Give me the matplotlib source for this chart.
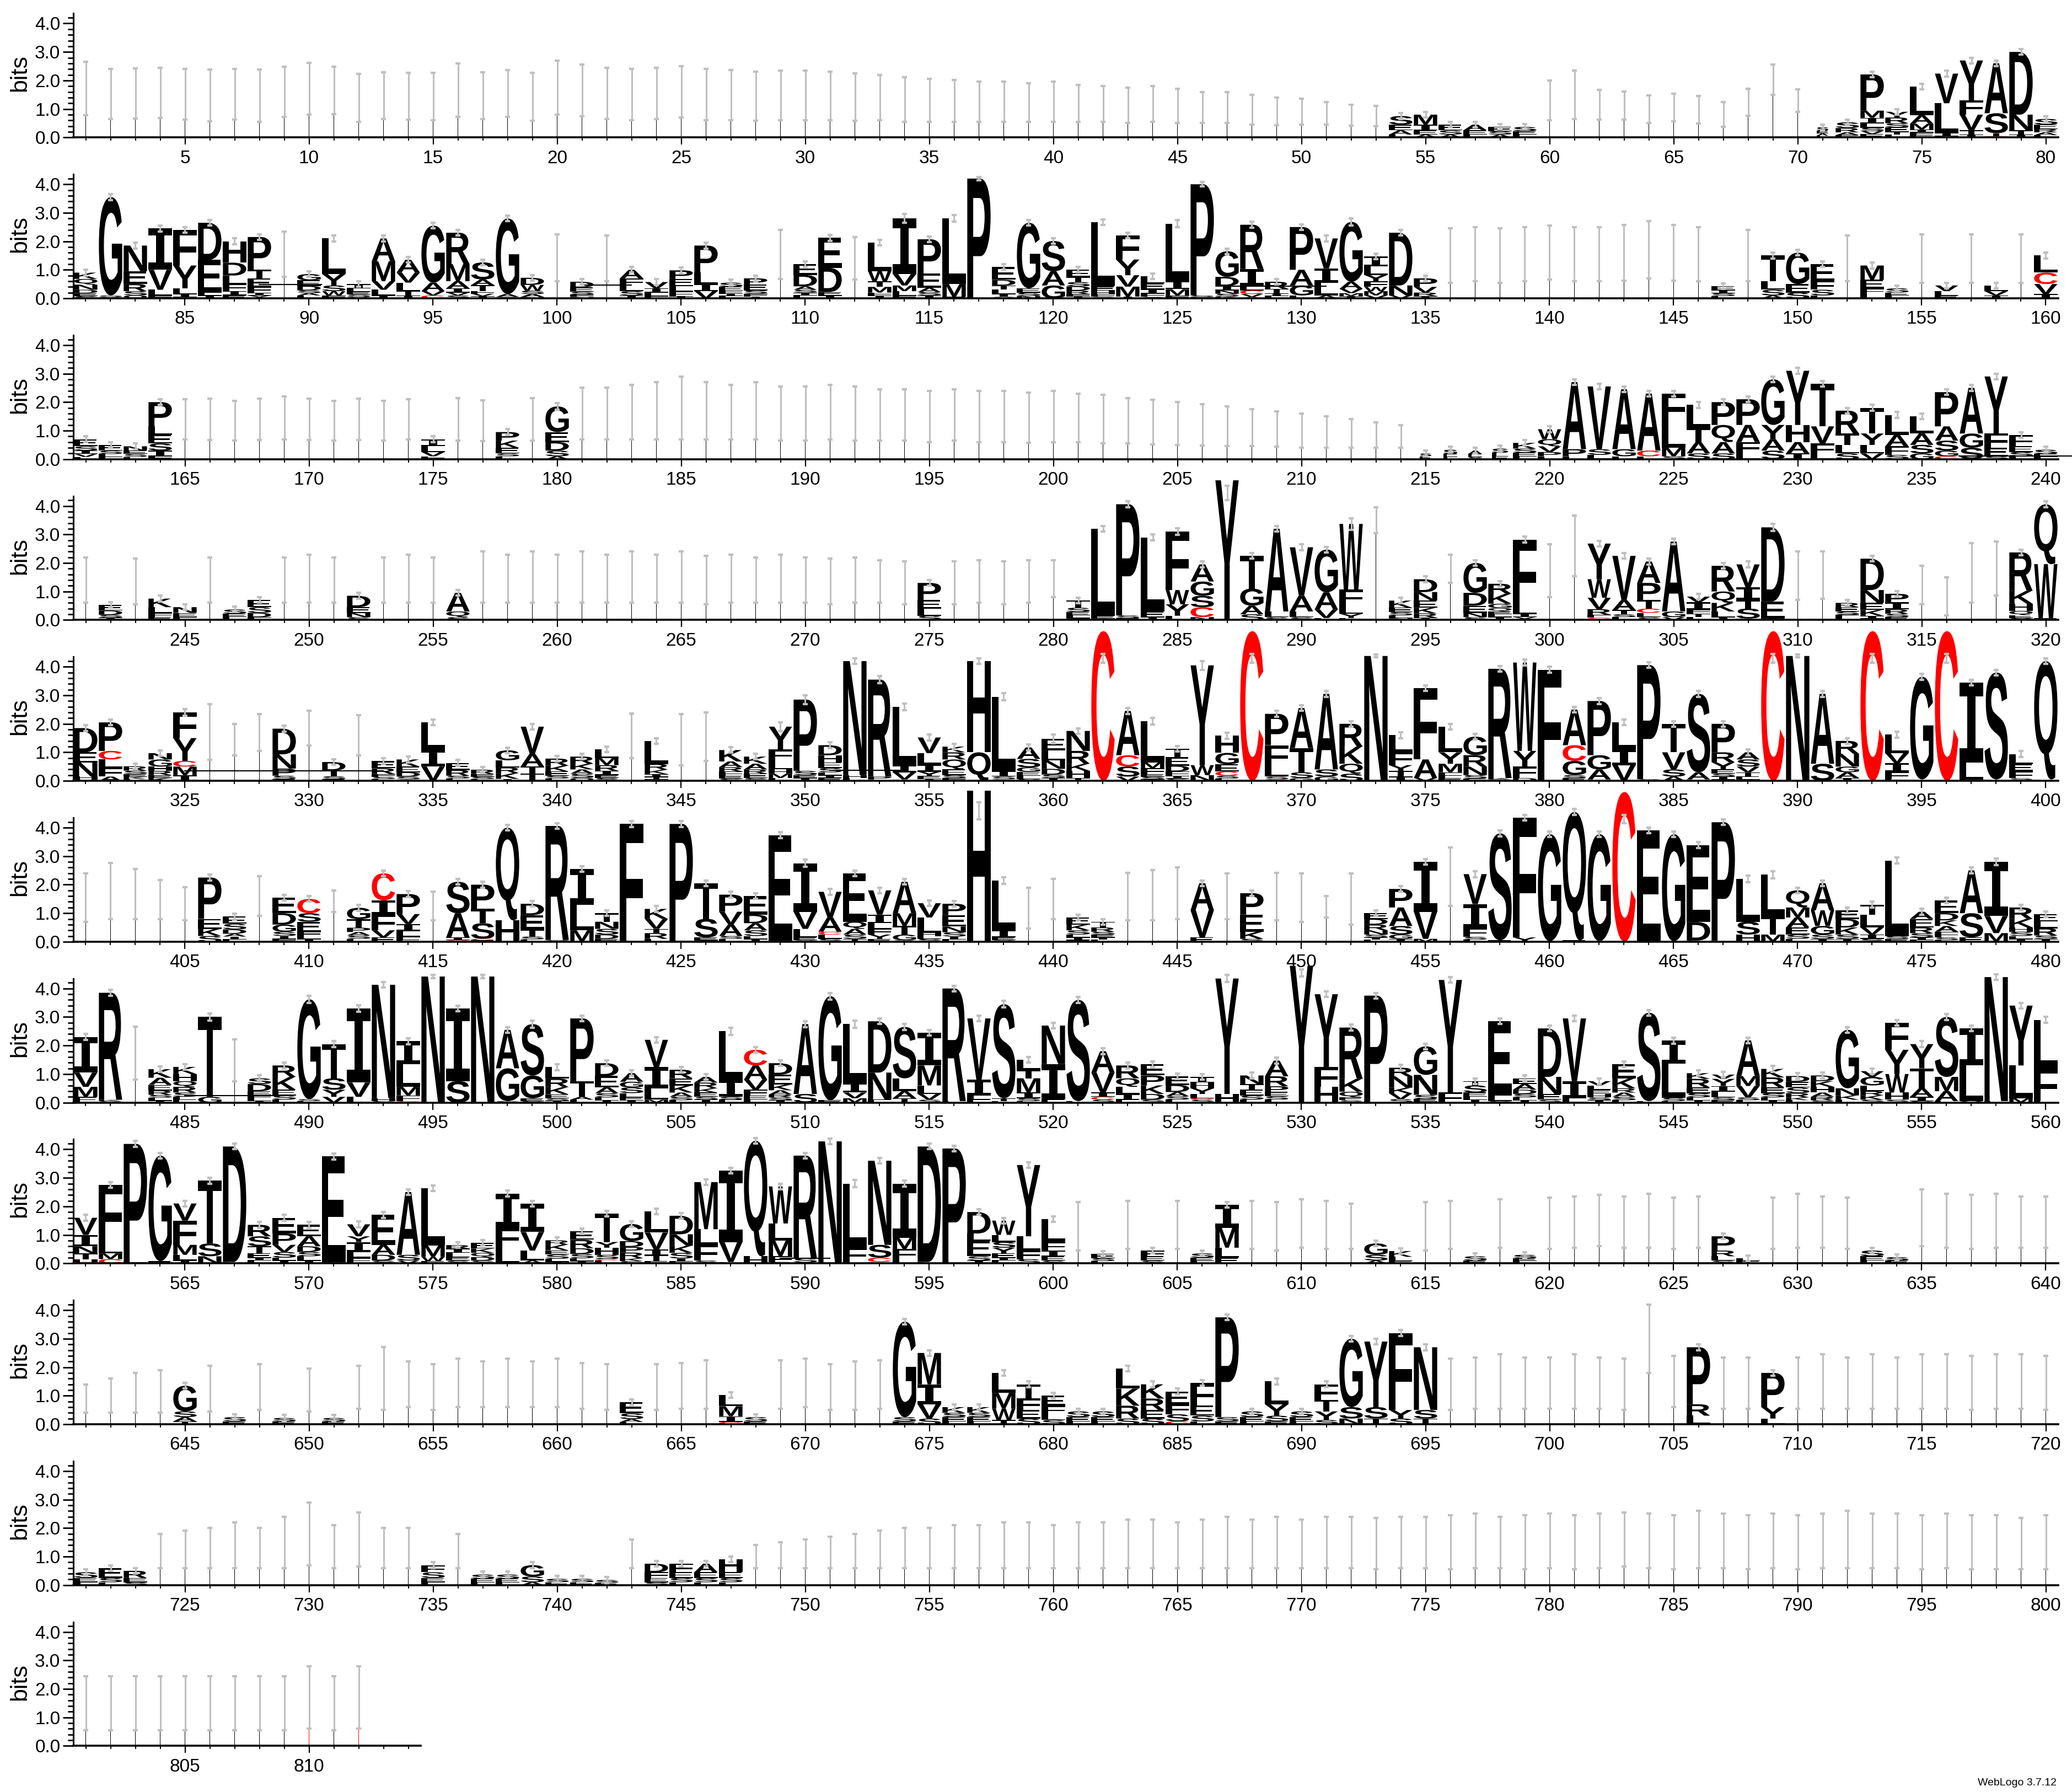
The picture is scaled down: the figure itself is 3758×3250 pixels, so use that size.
import re
import matplotlib
matplotlib.use("Agg")
import matplotlib.pyplot as plt
from matplotlib.textpath import TextPath
from matplotlib.font_manager import FontProperties
from matplotlib.patches import PathPatch, Rectangle
from matplotlib.transforms import Affine2D
from matplotlib.ticker import MultipleLocator
from matplotlib.lines import Line2D

# ---------------- data ----------------
# token per position: "g<h>/<e>" = mostly-gap narrow stack of height h with error +-e
# otherwise letters top->bottom with heights, optional "/e" error, optional "@c" error centre,
# optional "<w>|" prefix for stack width fraction
ROW_START = [1, 81, 161, 241, 321, 401, 481, 561, 641, 721, 801]

ROW01 = ("g1.72/.94 g1.52/.88 g1.55/.88 g1.56/.88 g1.51/.89 g1.47/.91 g1.51/.89 g1.47/.92 g1.6/.88 g1.71/.91 "
         "g1.65/.83 g1.39/.84 g1.47/.82 g1.44/.82 g1.43/.83 g1.66/.93 g1.47/.82 g1.54/.82 g1.42/.84 g1.75/.95 "
         "g1.65/.9 g1.55/.9 g1.5/.9 g1.55/.9 g1.6/.9 g1.5/.9 g1.48/.88 g1.45/.86 g1.48/.87 g1.48/.87 "
         "g1.45/.85 g1.42/.83 g1.4/.8 g1.33/.78 g1.3/.75 g1.28/.73 g1.25/.7 g1.25/.7 g1.22/.68 g1.25/.7 "
         "g1.2/.65 g1.17/.63 g1.13/.62 g1.17/.63 g1.1/.6 g1.05/.55 g1.05/.55 g.98/.52 g.92/.48 g.9/.45 "
         "g.85/.4 g.78/.37 g.75/.35 S.3E.2A.15L.1 M.35I.2E.15A.1 E.2S.15A.1 A.2E.15L.1 E.15S.12A.1 S.15E.12L.1 g1.3/.7 "
         "g1.5/.85 g1.14/.52 g1.12/.5 g.99/.49 g1.05/.49 g.97/.49 g.81/.43 g1.23/.47 g2.03/.53 g1.29/.39 "
         ".5|S.12E.1A.08L.06 S.2R.15A.1E.08 P1.27M.25I.2L.15S.12V.1E.12 Y.2R.2S.15E.15T.1L.1 L1.0A.3M.2I.1F.1E.08 "
         "V1.04L1.05I.1F.05 Y1.4F.5V.55T.15I.1 A1.75S.7T.1C.05 D2.2N.55T.15I.1 S.2E.15R.12A.1L.08").split()

ROW02 = ("K.22Q.2N.18D.12E.1S.08 G3.45S.05V.05 N.9E.45R.25S.15Q.1 I1.45V.7L.2F.1 F1.25Y.8L.2I.1F.05 "
         "D1.3E1.15L.1I.1 H.75D.45L.3F.25I.15E.1 P1.15T.3E.3F.2I.1Y.1 g1.55/.8 G.22E.2D.15S.1A.08L.1 "
         "L1.25Y.4S.2W.15F.1 I.15L.12E.1S.08V.05 A.8M.7V.3L.2I.1 A.45V.35L.3T.15I.1 G2.0A.3V.15C.1 "
         "R1.1M.6A.25I.15V.1S.1 S.6A.2T.2F.1V.08I.08 G2.65A.1S.05 D.25W.2S.12A.1N.05 g1.42/.82 "
         "D.2E.15S.1F.08N.05 g1.4/.8 A.3F.25L.2S.15I.1 V.22I.15L.12F.08 P.3E.25L.2F.15I.08 "
         "P.95L.4I.25V.25 S.15E.12F.1I.1L.08 P.22E.2S.12F.1I.06 g1.54/.86 E.38D.4A.12S.1I.1L.1 "
         "E1.05D.85E.12I.1 g1.4/.75 L1.0W.35T.2M.2F.1I.1 I1.95V.4M.2L.15F.1/.15 P1.2E.5A.15S.12I.1 "
         "L2.3M.45E.05/.12 P4.2/.06 E.45D.2T.15L.15I.1S.05 G2.3E.15S.12N.08 S1.06A.5G.45 "
         "E.25T.18S.15D.15R.12F.08I.07 L2.25E.15H.12F.1S.05 F.85Y.55V.4M.35I.06 L.25E.2I.15F.12S.05 L2.0I.3M.22F.1/.12 "
         "P3.9S.05D.05/.08 G.9D.32I.15N.12S.1K.06 R1.55I.6L.15C.13V.1A.05 R.25T.15I.1L.08 P1.5A.55G.35L.1 "
         "V1.05I.5L.45A.1 G2.1A.25V.15M.1I.08/.12 I.35L.3Y.22F.2W.15M.15V.1 D1.85N.35V.1 P.3V.2R.12I.08 "
         "g1.5/.95 g1.55/.95 g1.5/.95 g1.55/.95 g1.6/.95 g1.55/.95 g1.55/.95 g1.6/.98 g1.7/1.0 g1.6/.98 "
         "g1.55/.95 E.15I.1S.1L.08 g1.5/.9 T.9L.3S.2A.1 G1.1E.3S.2 E.6F.3S.2L.1 g1.4/.8 M.5E.3F.2L.15 "
         "S.15E.1L.1 g1.4/.85 V.2L.15E.1 g1.4/.85 L.2V.15I.1 g1.4/.85 L.6C.4V.35I.15").split()

ROW03 = ("E.25S.15I.12V.1F.08 E.2S.12L.1F.08 N.15E.12S.1F.08 P.85L.3E.3S.25I.2F.1 g1.4/.7 g1.4/.72 g1.35/.7 g1.4/.72 "
         "g1.45/.75 g1.4/.72 g1.35/.7 g1.4/.72 g1.35/.7 g1.4/.7 I.25L.2V.15F.1 g1.4/.75 g1.35/.72 "
         "P.3K.25E.2S.1L.1 g1.4/.75 G.9E.35D.3S.2A.1/.12 g1.6/.9 g1.6/.9 g1.65/.95 g1.7/1.0 g1.8/1.1 "
         "g1.7/1.0 g1.65/.95 g1.7/1.0 g1.6/.95 g1.6/.95 g1.65/.95 g1.6/.95 g1.55/.9 g1.55/.9 g1.5/.9 "
         "g1.55/.9 g1.5/.9 g1.5/.9 g1.45/.88 g1.5/.9 g1.45/.85 g1.4/.85 g1.35/.8 g1.3/.78 g1.25/.75 "
         "g1.2/.72 g1.15/.7 g1.1/.65 g1.05/.62 g1.0/.6 g.95/.55 g.9/.5 g.85/.45 g.8/.4 "
         ".5|S.1E.1 .6|S.15E.1L.08 .6|A.12E.1S.08 .7|S.15L.12E.1 "
         "K.2S.15E.12L.1 W.35Q.25V.2P.15L.1 A2.35P.25L.1 V2.2S.2L.15 A2.1G.25L.1 A2.0C.2L.1 "
         "F1.0L.9M.3S.1 L.8T.5A.4S.2 P.8Q.6A.4S.2 P.9A.6F.4L.2 G1.6Y.5A.4S.3 Y1.9H.6A.4I.2 "
         "T1.5V.6F.4L.15 R.8T.4L.3S.2 T.9Y.4L.3V.2 L.7A.4F.3S.15 L.6A.4S.3G.2 P1.2A.5S.35G.2C.1 "
         "A1.6G.5S.4 Y2.0F.5E.3S.1 F.4E.2S.15L.1 S.15E.1L.08").split()

ROW04 = ("g1.4/.8 E.2D.15S.1I.08 g1.35/.8 K.3L.2F.15E.1 N.2E.15F.1 g1.4/.8 S.15E.12L.1 E.25S.2D.15F.1 "
         "g1.4/.8 g1.45/.85 g1.4/.8 D.4E.2N.15S.1 g1.4/.8 g1.45/.85 g1.4/.8 A.65Q.2S.1 g1.5/.9 "
         "g1.45/.85 g1.5/.9 g1.45/.85 g1.5/.9 g1.45/.85 g1.5/.9 g1.45/.85 g1.5/.9 g1.4/.85 g1.45/.85 "
         "g1.4/.8 g1.45/.85 g1.4/.8 g1.35/.8 g1.4/.8 g1.35/.75 g1.3/.75 P.6E.3L.25S.15 g1.3/.75 "
         "g1.35/.75 g1.3/.75 g1.35/.75 g1.45/.65 "
         "T.25S.15E.12L.1I.06 L3.05E.1I.05 P3.9S.1E.06 L2.6E.2I.1 F2.05W.5Y.4L.15/.12 A.6G.5S.4C.35N.1 "
         "Y4.9/.25@4.45 T1.15G.6A.3S.2 A2.9L.2S.1 V1.7A.55L.2S.1 G1.5A.6V.3L.07 W2.3F.55L.3Y.15E.07/.2 "
         "g3.5/.45 K.25E.15S.12L.1N.06 D.45N.3E.25K.2R.15I.08 g1.8/.5 G1.05D.45E.25N.15S.1 "
         "R.35K.35G.15Q.12E.1L.1I.1 F2.4L.2I.12Y.1 g1.73/.93 g2.6/1.07 Y1.25W.65V.4R.2F.1C.08 "
         "V1.55A.35T.15S.1L.1 A.75P.6T.3C.15L.15S.1 A2.45G.2V.1 V.2I.25F.15T.12L.1 R.9Q.4K.3L.2I.1 "
         "V.8I.45T.3S.35L.05 D2.6E.6I.05/.12 g1.55/.85 g1.58/.83 R.15E.15S.12F.1L.08 D1.1N.45E.25K.2I.1S.05 "
         "P.3I.25R.15S.12E.1 g1.23/.68 g.83/.67 g1.65/1.05 g1.8/.95 R1.35K.45H.25Q.15E.1S.07 Q2.1W1.9E.06").split()

ROW05 = ("D.85E.35N.5H.1V.05 P1.0C.3L.3F.3A.15 R.15S.12E.1K.08L.06 N.22G.25H.15R.15E.1K.1 F.9Y.8C.2M.3I.2/.12 "
         "g1.72/.98 g1.45/.55 g1.7/.65 D.9N.5P.25S.12E.06 g1.85/.6 D.3T.2S.1E.06 g1.6/.7 E.25R.2F.1S.08L.06 "
         "K.25E.2D.15S.1I.05 L.95I.6V.5 E.25R.2S.1L.08 R.15E.1S.08L.06 G.35L.25R.2K.2I.07 V.95A.45T.25T.25 "
         "R.25K.2E.15S.1L.08 R.25K.2A.15S.15Q.1 L.3M.25R.2I.15E.1S.1 g1.58/.78 L.8R.2K.15I.1T.08F.06 "
         "g1.45/.9 g1.55/.85 K.4A.2R.15F.15E.1S.08 K.25A.2R.15E.15S.1 Y.8F.4L.3H.15M.15L.1/.15 P2.5S.15E.1I.1/.15 "
         "D.35H.25E.2S.15L.1I.1E.1 N4.0H.1L.1 R3.4P.1L.05/.12 L2.05I.25V.25F.05/.12 V.55L.4I.25Y.15E.1I.07 "
         "K.2R.25Q.35E.2S.1F.1 H3.2Q1.0 L2.6I.2S.1E.05/.12 A.4S.3G.15E.15L.1S.07 E.4L.35N.3D.2S.12I.1/.15 "
         "N.7R.45K.25H.25T.1 C5.25/.15@4.3 A1.55C.4S.35V.15 L1.45M.2F.2E.1S.08I.06/.12 T.3E.3D.2F.15I.1S.08 "
         "Y3.5W.35N.2/.15 H.6G.4E.25C.15S.1L.08 C5.25/.15@4.3 P1.1F.75L.35S.1C.05 A1.4T.85S.2G.1 "
         "A2.65S.25G.15 R.8K.6Q.35S.25 N4.38/.05 L.6F.45Y.2T.2I.15 F2.5A.65V.1 L.9Y.4M.3F.2E.1 "
         "G.65R.4N.3S.12E.08 R3.83K.05S.05 W3.1Y.55F.4D.1 F3.9/.1 A1.25C.55G.5S.1E.1 P1.9G.5A.35E.05 "
         "L.95I.55V.55 P4.0S.03E.03 T1.0V.6S.25A.15 S2.75A.25E.05 P1.0R.35Y.25E.15S.1I.1S.05 "
         "A.25S.25V.2T.15E.1I.05 C5.25/.15@4.3 N4.38/.05 A2.45S.6 R.45N.45G.2A.2I.1 C5.25/.15@4.3 "
         "L.65V.35I.3F.25E.07 G3.6E.05 C5.25/.15@4.3 I2.8L.6E.05 S3.75E.05 L.35E.25F.25S.07I.02 Q4.15E.05").split()

ROW06 = ("g1.55/.85 g1.78/.98 g1.68/.88 g1.48/.68 g1.33/.58 P1.45E.35K.25S.2 E.25S.2D.15A.1I.1L.08 g1.6/.7 "
         "E.55D.4G.25S.15I.1F.1 C.5S.3E.35F.15L.1I.1 g1.42/.38 G.4T.3P.15A.12S.12L.1 C.95I.5F.55V.25E.15 "
         "P.7V.35I.25L.2F.1E.07 g1.25/.5 S1.1A.85I.1C.05 P.85T.5S.55C.05E.05 Q3.25H.75 D.4E.5T.25S.1L.08 "
         "R4.0S.03E.03 I1.25L.9M.4 T.3N.25S.2D.15E.1 F4.1S.03 K.35V.35T.15R.2L.1 P4.1E.03 T1.25S.65E.1I.05 "
         "P.6V.45A.4S.1L.1 E.65D.3A.25S.2L.1I.1 E3.7S.04 I1.7V.6L.3E.1S.05/.12 V.9A.5C.1L.15S.1 "
         "E1.7Q.25A.2S.15T.1 V.85I.3L.2F.2Y.15E.1 A1.1M.45T.3G.2S.05 V.5L.55H.1E.1S.1 P.4E.4N.2S.15I.1L.08 "
         "H5.3/.3@4.6 L1.75I.25E.1S.05/.12 g1.18/.72 g1.5/.7 E.25K.2S.15L.1I.1E.05 T.2R.15S.1E.1I.08L.07 g1.58/.83 "
         "g1.63/.88 g1.7/.9 A.95V.95E.15 g1.6/.8 P.75E.6K.25S.1 g1.58/.83 g1.55/.85 g1.23/.38 g1.5/.9 "
         "E.2D.2R.2N.15S.1I.08L.07 P.65A.65S.3G.15I.1 I1.75V.95M.1 g2.28/1.03 V1.05I.85F.3S.1L.07 S3.75E.05 "
         "F4.2Y.15 G3.75E.02 Q4.5E.05 G3.75E.02 C5.25/.15@4.3 E3.9/.1 G3.75E.02 E2.7D.65L.04 P4.15E.04 "
         "L1.5S.45H.25/.12 L1.45T.65M.25/.12 Q.6M.35A.35E.25S.15L.1 A.95W.55G.3S.15I.1 E.3D.3K.25S.15I.1 "
         "T.35L.45V.25I.15S.1 L2.65S.1E.1 A.25E.3R.2S.15I.1L.05 E.45D.25K.2A.2F.2S.1L.05 A1.5S.85E.15 "
         "I1.9V.6M.3/.12 R.4K.3H.15S.15L.1I.1 E.25L.25R.25S.12I.1").split()

ROW07 = ("I1.25V.5M.35E.2 R3.75K.05S.05 g1.73/.93 K.3A.25E.2R.15S.1L.1I.07 K.25H.25Q.2R.2S.15L.1E.1 "
         "T2.8G.2/.12 g1.48/.73 S.2D.25E.15F.1L.1I.05 R.4K.45E.2S.15L.1 G3.5S.07E.05/.12 T1.2S.4Y.25V.2 "
         "I2.6V.5L.2/.12 N3.98H.1S.05 I.8L.8M.3F.2C.05 N4.42/.05 I2.55S.75 N4.42/.05 A1.35G1.15S.05 "
         "S1.8G.8E.1S.05/.12 L.4R.3K.25E.15S.08I.06 P2.2T.55A.1L.1 D.45E.4A.2S.15L.1I.08 A.3G.2S.2L.15E.1I.08 "
         "V.95I.75L.4M.1 R.3E.25K.25A.15S.12L.08 A.2R.2K.15E.15S.1I.1 L1.7I.6S.1E.1/.12 C.55A.5V.35F.2E.15L.1 "
         "D.4E.35K.2A.15R.1S.1I.08 A2.45S.3 G3.65E.08/.12 L2.05I.35V.2M.15/.12 D1.8N.95E.1 S1.8L.45A.25T.15 "
         "I1.15M.7L.3V.2S.1 R3.95E.05 V2.15I.55L.15E.1 S3.3T.1E.05/.12 L.35T.3M.5I.2S.1E.05 N1.35I1.25E.1 "
         "S3.55E.05 A.75V.7I.15C.1S.1 R.45Q.3L.25I.2E.1 E.4P.35K.3D.2S.1 E.3D.25A.15S.12L.1 I.2H.2Y.2L.15C.05S.1 "
         "Y4.05H.3/.12 N.3T.2E.2S.15L.1 A.55R.35P.2E.15S.12L.1 Y4.8/.12@4.55 Y2.55F.7H.55 R1.8K.45Q.2E.1S.08 "
         "P3.7E.05 R.3N.4K.2V.2S.12 G1.0N.7S.15E.08L.04 Y3.95F.35 T.15S.25E.15L.1I.1 E2.6L.2S.05 "
         "E.2A.2D.15S.12L.1I.08 D1.7N.6E.2S.1 V2.2I.6L.15 V.15L.15E.15H.12S.1I.08 E.5K.35R.15A.15S.12L.08 "
         "S3.1E.05 I.8L1.2S.12E.05 K.2R.3E.2S.15L.1I.08 V.15Y.25I.2L.2S.1E.08 A1.25M.35V.4S.1L.08 "
         "K.3R.35E.2S.15L.1I.08 D.2E.2S.2R.15K.1L.08 D.2K.2H.2A.15R.12S.08 G2.05N.25K.15L.1 V.2G.3L.2R.15K.15S.1 "
         "F.95Y.85W.65H.25S.1 Y.85T.7A.3I.15S.05 S2.1M.5A.35E.05 I1.3L1.25V.05 N4.35E.05 Y2.1L1.15M.15 L1.7F1.15E.05").split()

ROW08 = ("V.6I.4N.25T.2H.1C.05 F2.05L.35M.2C.15 P4.15E.04 G3.7E.05S.03 V.6F.85M.35L.2I.1 T2.2S.45N.25 D4.05E.05 "
         "R.4S.35T.25E.15I.1L.1 E.55P.4V.25S.2L.1I.1 E.4A.35D.2S.15L.15I.1 E3.7S.05 V.42Y.2I.35L.2F.2 "
         "E1.05A.35D.2S.1 A2.2S.2V.1 L2.0M.4W.15E.08 R.12I.15L.15E.12S.1 E.2K.15Q.15D.12S.1 I1.2F.7L.55 "
         "I1.0V.65L.35A.1 R.15K.2E.15S.15L.1I.06 E.3R.3D.2S.15L.1I.08 T1.0Y.2H.25S.15C.05L.1 "
         "G.6D.2P.2R.2K.1S.08 L.75V.6I.2T.2E.08 D.65N.4K.25S.2I.1E.07 M1.65L.55F.55S.1 I2.5V.7L.05 "
         "Q4.05H.25 W1.3L.6M.55F.2S.05 R3.6S.15E.03 N4.25S.03 L2.25F.5E.05/.12 N2.95S.45C.15E.05 "
         "I1.9M.4F.35L.15 D4.05E.05 P4.0E.03 D.75L.25E.55S.15I.1 W.5L.25S.2Y.2E.15I.1L.1 Y2.5L.5F.3S.15 "
         "L.8F.3I.2E.15S.1 g1.3/.85 E.15S.1L.08 g1.35/.85 F.2E.15S.1 g1.35/.85 S.15E.12L.08 I.8M.7L.35E.2 "
         "g1.35/.85 g1.3/.85 g1.4/.85 g1.35/.85 g1.3/.8 G.4S.2A.1 K.2L.15E.08 g1.3/.85 g1.35/.85 S.15E.1 g1.4/.85 "
         "S.12E.1L.08 g1.4/.9 g1.45/.9 g1.5/.9 g1.45/.9 g1.5/.95 g1.4/.9 g1.45/.9 P.5R.2L.15S.1 L.1E.08 g1.4/.9 "
         "g1.5/.95 g1.45/.9 g1.4/.9 S.2E.15L.1 S.12E.1 g1.6/1.0 g1.5/.95 g1.45/.95 g1.5/.95 g1.45/.9 g1.45/.9").split()

ROW09 = ("g.9/.5 g1.0/.6 g1.1/.7 g1.15/.75 G.9S.2A.15T.1 g1.25/.8 S.15E.1 g1.3/.8 S.12E.1 g1.2/.75 "
         "S.12E.1 g1.3/.75 g1.6/1.1 g1.4/.8 g1.3/.8 g1.45/.85 g1.4/.8 g1.45/.85 g1.4/.8 g1.45/.85 "
         "g1.35/.8 g1.3/.8 E.4S.2A.1L.08 g1.3/.8 g1.35/.8 g1.4/.85 L.4M.35I.2C.08 S.15E.1 g1.4/.85 g1.45/.85 "
         "g1.3/.8 g1.35/.85 g1.4/.85 G3.35S.15E.1 M1.1I.7V.5S.2 K.2S.15E.15L.1 K.2S.15E.15L.1 L.7M.55W.4T.15 "
         "T.5F.4E.3S.2 E.35F.3L.2S.15 S.2E.15L.1 S.2E.15L.1 L.7K.6R.45S.2 K.5R.4E.3S.2 E.45F.35S.25C.1 "
         "F.8E.35S.2L.1 P3.5S.15E.1 S.2E.15L.1 L.8Y.4S.2E.1 S.2E.15L.1 F.55T.4Y.3S.15 G2.4S.4N.2 "
         "Y2.3S.4T.2 F2.7Y.3S.2 N2.2S.3T.2 g1.4/.9 g1.45/.9 g1.5/.95 g1.45/.9 g1.45/.9 g1.5/.95 g1.45/.9 "
         "g1.4/.9 g3.0/1.2 g1.5/.9 P2.0R.4L.3 g1.45/.9 g1.45/.9 P1.2Y.4L.2 g1.45/.9 g1.5/.95 g1.45/.9 "
         "g1.5/.95 g1.45/.9 g1.5/.95 g1.5/.95 g1.45/.95 g1.5/.95 g1.5/.95 g1.45/.95").split()

ROW10 = ("S.2E.15L.1 E.35S.15L.1 R.25E.15S.1 g1.2/.6 g1.25/.65 g1.3/.7 g1.4/.8 g1.3/.7 g1.5/.9 g1.8/1.1 "
         "g1.35/.75 g1.6/.95 g1.3/.7 g1.3/.7 F.25S.2E.15L.1 g1.2/.6 S.15E.12L.1 S.15E.12L.1 G.4S.2A.1 S.12E.1 "
         "S.12E.1 S.1E.08 g1.1/.5 D.3F.2E.15S.1 F.3E.2S.15L.1 A.3E.2S.15L.1 H.45E.2S.15L.1 g1.0/.4 g1.05/.45 g1.1/.5 "
         "g1.15/.55 g1.2/.6 g1.25/.65 g1.3/.7 g1.3/.7 g1.35/.75 g1.35/.75 g1.4/.8 g1.4/.8 g1.35/.75 "
         "g1.4/.8 g1.4/.8 g1.45/.85 g1.45/.85 g1.4/.8 g1.45/.85 g1.5/.9 g1.45/.85 g1.5/.9 g1.45/.85 "
         "g1.5/.9 g1.5/.9 g1.45/.9 g1.5/.9 g1.5/.9 g1.5/.95 g1.55/.95 g1.5/.9 g1.5/.95 g1.55/.95 "
         "g1.5/.95 g1.55/.95 g1.6/.95 g1.55/.95 g1.5/.95 g1.6/1.0 g1.55/.95 g1.5/.95 g1.55/.95 g1.5/.95 "
         "g1.55/.95 g1.6/1.0 g1.55/.95 g1.55/.95 g1.5/.95 g1.55/.95 g1.5/.95 g1.5/.95 g1.45/.9 g1.5/.95").split()

ROW11 = "g1.5/.95 g1.5/.95 g1.5/.95 g1.5/.95 g1.5/.95 g1.5/.95 g1.5/.95 g1.5/.95 g1.5/.95 g1.7/1.1r g1.5/.95 g1.7/1.1r".split()

ROWS = [ROW01, ROW02, ROW03, ROW04, ROW05, ROW06, ROW07, ROW08, ROW09, ROW10, ROW11]
ROW_LEN = [80] * 10 + [14]

# long flattened glyph strokes (start position, end position, height in bits)
FLAT_MARKS = [(88, 90.5, 0.48), (101, 103, 0.47), (127, 131, 0.43), (236.5, 241.1, 0.12),
              (325, 333, 0.35), (351, 354, 0.37), (485, 489, 0.25), (589, 591, 0.18)]

CREDIT = "WebLogo 3.7.12"

# ---------------- drawing ----------------
W, H, DPI = 3758, 3250, 100
fig = plt.figure(figsize=(W / DPI, H / DPI), dpi=DPI)
fig.patch.set_facecolor("white")

PX_BIT = 51.7
YTOP = 4.35
X0 = 133.0       # left of axis (px)
STEP = 45.0      # px per position
ERR_COL = "#bfbfbf"
RED = "#ff0000"

FP_MAIN = FontProperties(family="Liberation Sans", weight="bold")
FP_I = FontProperties(family="DejaVu Sans Mono", weight="bold")
_glyph_cache = {}


def glyph(ch):
    if ch not in _glyph_cache:
        tp = TextPath((0, 0), ch, size=1, prop=FP_I if ch == "I" else FP_MAIN)
        ext = tp.get_extents()
        _glyph_cache[ch] = (tp, ext)
    return _glyph_cache[ch]


def draw_letter(ax, ch, xc, y0, w, h, color):
    if h <= 0.004:
        return
    tp, ext = glyph(ch)
    tr = (Affine2D().translate(-ext.x0, -ext.y0)
          .scale(w / ext.width, h / ext.height)
          .translate(xc - w / 2, y0))
    ax.add_patch(PathPatch(tr.transform_path(tp), facecolor=color, edgecolor="none",
                           lw=0, clip_on=False, zorder=2))


tok_re = re.compile(r"([A-Z])(\d*\.?\d+)")
LABEL_FP = FontProperties(family=["Liberation Sans Narrow", "Liberation Sans"], size=24)

for r, (start, toks, nlen) in enumerate(zip(ROW_START, ROWS, ROW_LEN)):
    base = (104 + 121.7 * r) * 2.397
    ax = fig.add_axes([X0 / W, 1 - base / H, nlen * STEP / W, YTOP * PX_BIT / H])
    ax.set_xlim(start - 0.5, start + nlen - 0.5)
    ax.set_ylim(0, YTOP)
    for s in ("top", "right"):
        ax.spines[s].set_visible(False)
    ax.spines["bottom"].set_linewidth(2.6)
    ax.spines["left"].set_linewidth(2.2)
    ax.patch.set_alpha(0)

    for i, tok in enumerate(toks):
        pos = start + i
        if tok.startswith("g"):
            red = tok.endswith("r")
            body = tok[1:].rstrip("r")
            hh, ee = (float(v) for v in body.split("/"))
            ax.add_patch(Rectangle((pos - 0.02, 0), 0.04, hh, facecolor=RED if red else "black",
                                   edgecolor="none", zorder=2, clip_on=False))
            centre = hh
        else:
            wfrac = 1.0
            if "|" in tok:
                wtxt, tok = tok.split("|")
                wfrac = float(wtxt)
            ee = 0.1
            centre = None
            if "@" in tok:
                tok, c = tok.split("@")
                centre = float(c)
            if "/" in tok:
                tok, e = tok.split("/")
                ee = float(e)
            letters = [(m.group(1), float(m.group(2))) for m in tok_re.finditer(tok)]
            total = sum(v for _, v in letters)
            y = total
            wl = 0.94 * wfrac
            for ch, hv in letters:
                y -= hv
                draw_letter(ax, ch, pos, y, wl, hv, RED if ch == "C" else "black")
            if centre is None:
                centre = total
        # error bar
        ax.add_line(Line2D([pos, pos], [centre - ee, centre + ee], color=ERR_COL, lw=2.2,
                           zorder=3, clip_on=False, solid_capstyle="butt"))
        for yy in (centre - ee, centre + ee):
            ax.add_line(Line2D([pos - 0.1, pos + 0.1], [yy, yy], color=ERR_COL, lw=3.0,
                               zorder=3, clip_on=False, solid_capstyle="butt"))

    for a, b, yv in FLAT_MARKS:
        if start <= a < start + nlen:
            ax.add_line(Line2D([a, b], [yv, yv], color="black", lw=1.5, zorder=2, clip_on=False))

    # ticks
    ax.set_xticks([p for p in range(start, start + nlen) if p % 5 == 0])
    ax.set_xticks(list(range(start, start + nlen)), minor=True)
    ax.set_xticklabels([str(p) for p in range(start, start + nlen) if p % 5 == 0])
    ax.tick_params(axis="x", which="major", direction="out", length=9, width=1.6, pad=7)
    ax.tick_params(axis="x", which="minor", direction="out", length=4, width=1.4)
    ax.set_yticks([0, 1, 2, 3, 4])
    ax.set_yticklabels(["0.0", "1.0", "2.0", "3.0", "4.0"])
    ax.yaxis.set_minor_locator(MultipleLocator(0.2))
    ax.tick_params(axis="y", which="major", direction="out", length=14, width=2.0, pad=3)
    ax.tick_params(axis="y", which="minor", direction="out", length=7, width=2.0)
    for lab in ax.get_xticklabels() + ax.get_yticklabels():
        lab.set_fontproperties(LABEL_FP)
    ax.text(-0.027 * 80 / nlen, 2.25, "bits", rotation=90, ha="center", va="center",
            fontsize=31, family="Liberation Sans", transform=ax.get_yaxis_transform())

fig.text(3730 / W, 1 - 3233 / H, CREDIT, ha="right", va="center", fontsize=14, family="Liberation Sans")

fig.savefig("out.png", dpi=DPI, facecolor="white")
